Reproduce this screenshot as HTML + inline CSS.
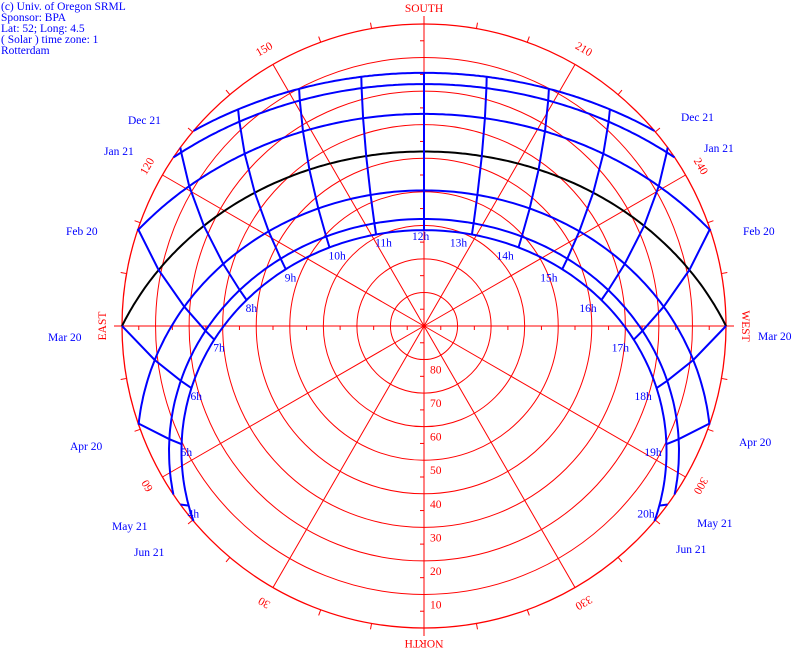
<!DOCTYPE html>
<html><head><meta charset="utf-8"><style>
html,body{margin:0;padding:0;background:#fff;width:800px;height:652px;overflow:hidden}
svg{display:block}
.b{fill:#00f}.r{fill:#f00}
</style></head><body>
<svg id="s" width="800" height="652" viewBox="0 0 800 652" xmlns="http://www.w3.org/2000/svg">
<g font-family="Liberation Serif, serif" font-size="11.5">
<text x="1" y="10" class="b">(c) Univ. of Oregon SRML</text>
<text x="1" y="21" class="b">Sponsor: BPA</text>
<text x="1" y="32" class="b">Lat: 52; Long: 4.5</text>
<text x="1" y="43" class="b">( Solar ) time zone: 1</text>
<text x="1" y="54" class="b">Rotterdam</text>
<text x="424" y="12" class="r" text-anchor="middle">SOUTH</text>
<text x="424" y="640" class="r" text-anchor="middle" transform="rotate(180 424 640)">NORTH</text>
<text x="106" y="326" class="r" text-anchor="middle" transform="rotate(-90 106 326)">EAST</text>
<text x="742" y="326" class="r" text-anchor="middle" transform="rotate(90 742 326)">WEST</text>
<text x="128" y="124" class="b">Dec 21</text>
<text x="104" y="155" class="b">Jan 21</text>
<text x="66" y="235" class="b">Feb 20</text>
<text x="48" y="341" class="b">Mar 20</text>
<text x="70" y="450" class="b">Apr 20</text>
<text x="112" y="530" class="b">May 21</text>
<text x="134" y="556" class="b">Jun 21</text>
<text x="681" y="121" class="b">Dec 21</text>
<text x="704" y="152" class="b">Jan 21</text>
<text x="743" y="235" class="b">Feb 20</text>
<text x="758" y="340" class="b">Mar 20</text>
<text x="739" y="446" class="b">Apr 20</text>
<text x="697" y="527" class="b">May 21</text>
<text x="676" y="553" class="b">Jun 21</text>
</g>
<g id="grid" stroke="#f00" fill="none" stroke-width="1"></g>
<g id="paths" fill="none" stroke-width="2"></g>
<g id="lbl" font-family="Liberation Serif, serif" font-size="11.5"></g>
</svg>
<script>
var NS="http://www.w3.org/2000/svg",cx=424,cy=326,R=302;
function el(p,n,a,t){var e=document.createElementNS(NS,n);for(var k in a)e.setAttribute(k,a[k]);if(t!=null)e.textContent=t;p.appendChild(e);return e;}
var g=document.getElementById('grid'),P=document.getElementById('paths'),L=document.getElementById('lbl');
function pos(az,r){var a=az*Math.PI/180;return [cx-r*Math.sin(a),cy+r*Math.cos(a)];}
el(g,'circle',{cx:cx,cy:cy,r:R,'stroke-width':1.3});
for(var i=1;i<9;i++)el(g,'circle',{cx:cx,cy:cy,r:R*i/9});
for(var az=0;az<360;az+=30){var p=pos(az,az%90==0?310:302);el(g,'line',{x1:cx,y1:cy,x2:p[0],y2:p[1]});}
for(var az=0;az<360;az+=10){if(az%30==0)continue;var a=pos(az,R),b=pos(az,R+6);el(g,'line',{x1:a[0],y1:a[1],x2:b[0],y2:b[1]});}
for(var i=1;i<18;i++){var d=R*i/18;if(i%2==0)continue;
 el(g,'line',{x1:cx+d,y1:cy,x2:cx+d,y2:cy+4});el(g,'line',{x1:cx-d,y1:cy,x2:cx-d,y2:cy+4});
 el(g,'line',{x1:cx,y1:cy+d,x2:cx-4,y2:cy+d});el(g,'line',{x1:cx,y1:cy-d,x2:cx-4,y2:cy-d});}
[[150,'150'],[210,'210'],[120,'120'],[240,'240'],[60,'60'],[300,'300'],[30,'30'],[330,'330']].forEach(function(t){
 var p=pos(t[0],320);el(L,'text',{x:p[0],y:p[1]+4,class:'r','text-anchor':'middle',transform:'rotate('+(t[0]-180)+' '+p[0]+' '+p[1]+')'},t[1]);});
for(var a=10;a<=80;a+=10){el(L,'text',{x:430,y:cy+(90-a)*R/90+14,class:'r'},a);}
var phi=52*Math.PI/180;
function sun(dec,h){var d=dec*Math.PI/180,H=(h-12)*15*Math.PI/180;
 var sa=Math.sin(phi)*Math.sin(d)+Math.cos(phi)*Math.cos(d)*Math.cos(H);var alt=Math.asin(sa);
 var c=(Math.sin(d)-sa*Math.sin(phi))/(Math.cos(alt)*Math.cos(phi));c=Math.max(-1,Math.min(1,c));
 var az=Math.acos(c)*180/Math.PI;if(h>12)az=360-az;return {alt:alt*180/Math.PI,az:az};}
function xy(s){return pos(s.az,(90-Math.max(0,s.alt))*R/90);}
var decs=[23.44,20.1,11.6,0,-11.2,-20.1,-23.44];
decs.forEach(function(dec){var d=dec*Math.PI/180;var H0=Math.acos(-Math.tan(phi)*Math.tan(d))*180/Math.PI/15;
 var pts=[];for(var k=0;k<=200;k++){var h=12-H0+2*H0*k/200;var s=sun(dec,h);if(k==0||k==200)s.alt=0;pts.push(xy(s).map(function(v){return v.toFixed(1)}).join(','));}
 el(P,'polyline',{points:pts.join(' '),stroke:dec==0?'#000':'#00f'});});
for(var h=4;h<=20;h++){var pts=[];
 for(var i=0;i<decs.length;i++){var s=sun(decs[i],h);
  if(s.alt>=0){pts.push(xy(s));}else{
   if(i>0){var lo=decs[i-1],hi=decs[i];for(var k=0;k<60;k++){var m=(lo+hi)/2;if(sun(m,h).alt>0)lo=m;else hi=m;}
    var s2=sun(lo,h);s2.alt=0;pts.push(xy(s2));}break;}}
 if(pts.length>1)el(P,'polyline',{points:pts.map(function(p){return p[0].toFixed(1)+','+p[1].toFixed(1)}).join(' '),stroke:'#00f'});
 var s=sun(23.44,h);var p=xy(s);
 el(L,'text',{x:p[0]+(h<12?-1:(h==12?-12:-22)),y:p[1]+(h==12?10:12),class:'b'},h+'h');}
</script>
</body></html>
